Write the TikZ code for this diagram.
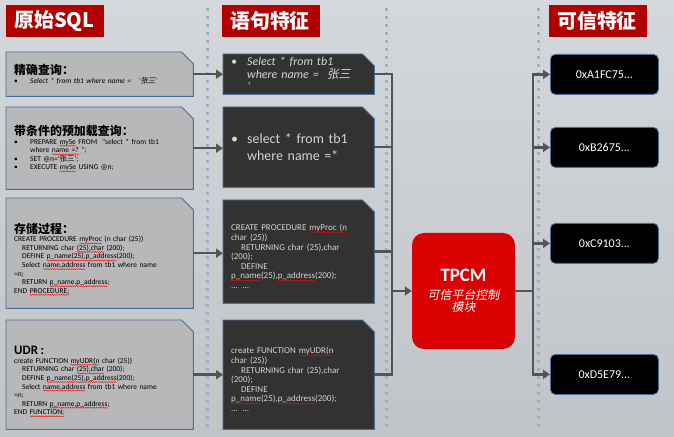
\documentclass[tikz,border=0pt]{standalone}
\usepackage{fontspec}
\setmainfont{Carlito}
\newfontfamily\cjk{Noto Sans CJK SC}
\newfontfamily\cjkit{Noto Sans CJK SC}[FakeSlant=0.2]
\usetikzlibrary{arrows.meta,positioning,calc,backgrounds,decorations.pathmorphing}
\definecolor{bgtop}{RGB}{212,215,219}
\definecolor{bgbot}{RGB}{192,196,201}
\definecolor{hdrred}{RGB}{178,0,0}
\definecolor{tpcmred}{RGB}{216,0,0}
\definecolor{edgeblue}{RGB}{72,112,152}
\definecolor{sqlgrey}{RGB}{184,184,186}
\definecolor{featdark}{RGB}{50,50,50}
\definecolor{feattext}{RGB}{212,212,212}
\definecolor{linegrey}{RGB}{84,84,84}
\definecolor{dotblue}{RGB}{164,174,194}
% red wavy underline (spell check mark)
\newsavebox{\typobox}
\newlength{\typowd}
\newcommand{\typo}[1]{\leavevmode\sbox{\typobox}{#1}\setlength{\typowd}{\wd\typobox}%
    \rlap{\tikz[overlay]\draw[red, line width=0.35bp, decorate,
    decoration={snake, amplitude=0.55bp, segment length=2.2bp}]
    (0pt,-1.6bp) -- (\typowd,-1.6bp);}\usebox{\typobox}}
\newcommand{\boxtitle}[1]{{\cjk\bfseries\fontsize{12}{14}\selectfont #1}}
\newcommand{\blt}{\makebox[16bp][l]{•}}
\tikzset{
    header/.style  = {fill=hdrred, text=white, anchor=north west,
            minimum height=32bp, inner xsep=8bp, text width=82bp, align=left,
            font=\cjk\bfseries\fontsize{20}{24}\selectfont},
    sqlbox/.style  = {anchor=north west, minimum width=187bp,
            inner xsep=8bp, inner ysep=2bp, text width=171bp, align=left,
            font=\fontsize{7.5}{8.6}\selectfont},
    featbox/.style = {sqlbox, text=feattext,
            minimum width=151bp, text width=135bp,
            font=\fontsize{9}{9.7}\selectfont},
    sqlcut/.style  = {draw=edgeblue, line width=0.9bp, fill=sqlgrey},
    featcut/.style = {sqlcut, fill=featdark},
    hashbox/.style = {draw=edgeblue, line width=0.8bp, fill=black, text=white,
            rounded corners=5bp, anchor=north west, minimum width=108bp,
            minimum height=40bp, font=\fontsize{12}{14}\selectfont},
    tpcmbox/.style = {fill=tpcmred, text=white, rounded corners=12bp,
            minimum width=103bp, minimum height=116bp, align=center,
            font=\cjkit\fontsize{12}{12.5}\selectfont},
    wire/.style    = {line width=2.6bp, draw=linegrey},
    flow/.style    = {wire, -{Triangle[length=7bp,width=9bp]}},
    sepline/.style = {draw=dotblue, line width=3bp, dash pattern=on 3bp off 5bp},
}
\begin{document}
\begin{tikzpicture}[x=1bp, y=-1bp]
    \useasboundingbox (0,0) rectangle (674,437);
    % headers
    \node[header] (hsql)  at (6,5)   {原始SQL};
    \node[header] (hfeat) at (222,5) {语句特征};
    \node[header] (htrust) at (549,5) {可信特征};
    % original SQL
    \node[sqlbox, minimum height=44bp] (s1) at (6,52) {%
        \boxtitle{精确查询：}\\
        \blt\textit{Select * from tb1 where name =\ \ \ '{\cjkit 张三}'}};
    \node[sqlbox, minimum height=82bp] (s2) at (6,107) {%
        \boxtitle{带条件的预加载查询：}\\
        \blt PREPARE \typo{mySe} FROM\ \ ``select * from tb1\\
        \hspace*{16bp}where \typo{name =?} '';\\
        \blt SET @n=`{\cjk 张三}';\\
        \blt EXECUTE \typo{mySe} USING @n;};
    \node[sqlbox, minimum height=110bp] (s3) at (6,198) {%
        \boxtitle{\rule{0pt}{21bp}存储过程：}\\
        CREATE PROCEDURE \typo{myProc} (n char (25))\\
        \hspace*{8bp}RETURNING char \typo{(25),char} (200);\\
        \hspace*{8bp}DEFINE \typo{p\_name(25),p\_address}(200);\\
        \hspace*{8bp}Select \typo{name,address} from tb1 where name\\
        =n;\\
        \hspace*{8bp}RETURN \typo{p\_name,p\_address};\\
        END \typo{PROCEDURE;}};
    \node[sqlbox, minimum height=109bp] (s4) at (6,320) {%
        {\bfseries\fontsize{13}{14}\selectfont \rule{0pt}{21bp}UDR :}\\
        create FUNCTION \typo{myUDR(n} char (25))\\
        \hspace*{8bp}RETURNING char \typo{(25),char} (200);\\
        \hspace*{8bp}DEFINE \typo{p\_name(25),p\_address}(200);\\
        \hspace*{8bp}Select \typo{name,address} from tb1 where name\\
        =n;\\
        \hspace*{8bp}RETURN \typo{p\_name,p\_address};\\
        END \typo{FUNCTION;}};
    % statement features
    \node[featbox, minimum height=40bp, font=\itshape\fontsize{12}{12.5}\selectfont] (m1) at (223,54) {%
        \blt Select * from tb1\\
        \hspace*{16bp}where name =\ \ {\cjkit 张三}\\
        \hspace*{16bp}'};
    \node[featbox, minimum height=80bp, font=\fontsize{14}{17}\selectfont] (m2) at (223,107) {%
        \blt select * from tb1\\
        \hspace*{16bp}where name =*};
    \node[featbox, minimum height=103bp] (m3) at (223,200) {%
        \rule{0pt}{16bp}CREATE PROCEDURE \typo{myProc (n}\\
        char (25))\\
        \hspace*{10bp}RETURNING char (25),char\\
        (200);\\
        \hspace*{10bp}DEFINE\\
        \typo{p\_name}(25),\typo{p\_address}(200);\\
        ... ...};
    \node[featbox, minimum height=109bp] (m4) at (223,320) {%
        \rule{0pt}{16bp}create FUNCTION \typo{myUDR(n}\\
        char (25))\\
        \hspace*{10bp}RETURNING char (25),char\\
        (200);\\
        \hspace*{10bp}DEFINE\\
        \typo{p\_name}(25),\typo{p\_address}(200);\\
        ... ...};
    % TPCM
    \node[tpcmbox] (tpcm) at (463.5,291) {%
        {\rmfamily\upshape\bfseries\fontsize{19}{22}\selectfont TPCM}\\[5bp]
        可信平台控制\\
        模块};
    % trusted features
    \node[hashbox] (h1) at (550,54)  {0xA1FC75...};
    \node[hashbox] (h2) at (550,127) {0xB2675...};
    \node[hashbox] (h3) at (550,223) {0xC9103...};
    \node[hashbox] (h4) at (550,354) {0xD5E79...};
    % backdrop, separators and cut-corner boxes
    \begin{scope}[on background layer]
        \shade[top color=bgtop, bottom color=bgbot] (0,0) rectangle (674,437);
        \foreach \sx in {207,386,538}
            \draw[sepline] (\sx,8) -- (\sx,428);
        \foreach \b/\cut in {s1/sqlcut,s2/sqlcut,s3/sqlcut,s4/sqlcut,
                m1/featcut,m2/featcut,m3/featcut,m4/featcut}
            \draw[\cut] (\b.south west) -- (\b.north west)
                -- ([xshift=-12bp]\b.north east) -- ([yshift=-12bp]\b.north east)
                -- (\b.south east) -- cycle;
    \end{scope}
    % Arrows
    \coordinate (busin) at (392,0);
    \coordinate (busout) at (533,0);
    \foreach \s/\m in {s1/m1,s2/m2,s3/m3,s4/m4}
        \draw[flow] (\s.east) -- (\s.east -| \m.west);
    \draw[wire] (m1.east) -- (m1.east -| busin) -- (m4.east -| busin) -- (m4.east);
    \draw[wire] (m2.east) -- (m2.east -| busin);
    \draw[wire] (m3.east) -- (m3.east -| busin);
    \draw[flow] (tpcm.west -| busin) -- (tpcm.west);
    \draw[wire] (tpcm.east) -- (tpcm.east -| busout);
    \draw[wire, line cap=rect] (h1.west -| busout) -- (h4.west -| busout);
    \foreach \h in {h1,h2,h3,h4}
        \draw[flow] (\h.west -| busout) -- (\h.west);
\end{tikzpicture}
\end{document}
